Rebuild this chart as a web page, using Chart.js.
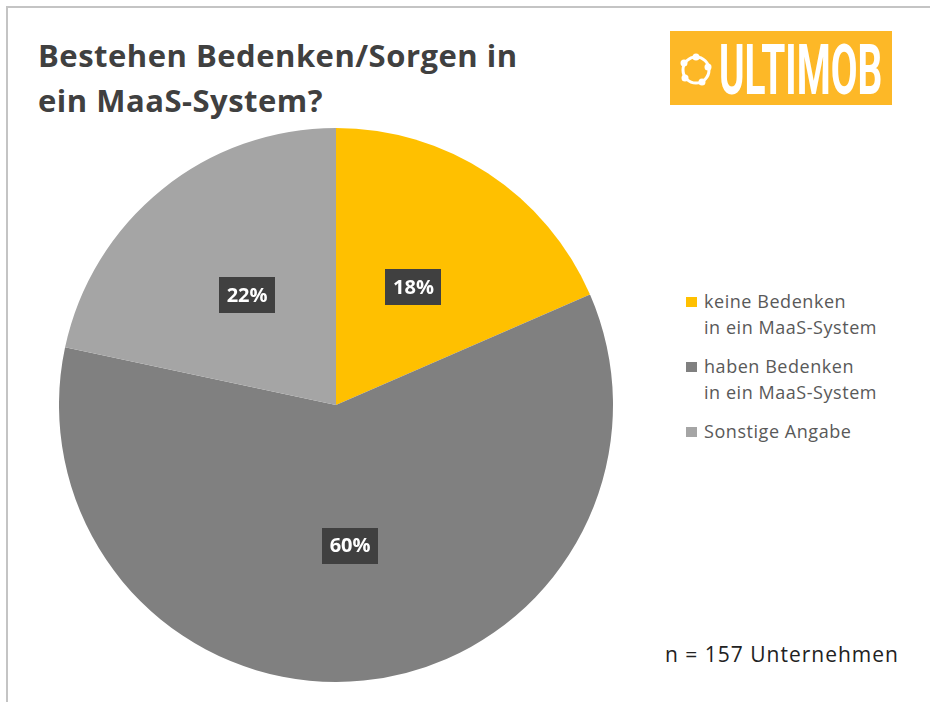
<!DOCTYPE html>
<html>
<head>
<meta charset="utf-8">
<script src="https://cdn.jsdelivr.net/npm/chart.js@4"></script>
<style>
  body { margin: 0; width: 930px; height: 702px; background: #fff; overflow: hidden; position: relative; font-family: "Open Sans", Lato, sans-serif; }
  #frame { position: absolute; left: 6px; top: 6px; right: -4px; bottom: -4px; border-left: 2px solid #c4c4c4; border-top: 2px solid #c4c4c4; }
  #title { position: absolute; left: 38px; top: 33px; font-weight: bold; font-size: 31px; letter-spacing: 0.5px; line-height: 45px; color: #404040; white-space: nowrap; }
  #logo { position: absolute; left: 670px; top: 31px; width: 222px; height: 74px; background: #fdb827; }
  #logo svg { position: absolute; left: 9px; top: 20px; }
  #logoText { position: absolute; left: 49px; top: 4px; font-family: Roboto, sans-serif; font-weight: bold; font-size: 70px; line-height: 70px; color: #fff; transform-origin: 0 0; white-space: nowrap; }
  #pieBox { position: absolute; left: 59px; top: 128px; width: 554px; height: 554px; }
  #legend { position: absolute; left: 686px; top: 288px; font-size: 18px; letter-spacing: 0.55px; color: #595959; }
  .item { position: relative; padding-left: 18px; margin-bottom: 13px; line-height: 26px; }
  .item span.sw { position: absolute; left: 0; top: 9px; width: 11px; height: 10px; }
  #note { position: absolute; left: 665px; top: 640px; font-size: 21px; letter-spacing: 1px; color: #222; white-space: nowrap; }
</style>
</head>
<body>
<div id="frame"></div>
<div id="title">Bestehen Bedenken/Sorgen in<br>ein MaaS-System?</div>
<div id="logo">
  <svg width="36" height="38" viewBox="0 0 36 38">
    <circle cx="17" cy="19" r="13" fill="none" stroke="#fff" stroke-width="3"/>
    <circle cx="17" cy="6" r="3.5" fill="#fff"/>
    <circle cx="29" cy="16" r="3.5" fill="#fff"/>
    <circle cx="23" cy="31" r="3.5" fill="#fff"/>
    <circle cx="6" cy="27" r="3.5" fill="#fff"/>
    <circle cx="5" cy="12" r="3.5" fill="#fff"/>
  </svg>
  <div id="logoText">ULTIMOB</div>
</div>
<div id="pieBox"><canvas id="pie"></canvas></div>
<div id="legend"></div>
<div id="note">n = 157 Unternehmen</div>

<script>
// answers (number of companies, n = 157)
const categories = [
  ['keine Bedenken', 'in ein MaaS-System'],
  ['haben Bedenken', 'in ein MaaS-System'],
  ['Sonstige Angabe']
];
const counts = [29, 94, 34];
const colors = ['#ffc000', '#808080', '#a5a5a5'];

const total = counts.reduce((a, b) => a + b, 0);

// squeeze logo text into its box
const lt = document.getElementById('logoText');
lt.style.transform = 'scaleX(' + (163 / lt.offsetWidth) + ')';

// legend
const legend = document.getElementById('legend');
categories.forEach((lines, i) => {
  const div = document.createElement('div');
  div.className = 'item';
  div.innerHTML = '<span class="sw" style="background:' + colors[i] + '"></span>' + lines.join('<br>');
  legend.appendChild(div);
});

// percent boxes in the middle of each slice
const pctLabels = {
  id: 'pctLabels',
  afterDatasetsDraw(chart) {
    const ctx = chart.ctx;
    const meta = chart.getDatasetMeta(0);
    ctx.save();
    ctx.font = 'bold 20px "Open Sans", sans-serif';
    ctx.textAlign = 'center';
    ctx.textBaseline = 'middle';
    meta.data.forEach((arc, i) => {
      const p = arc.getProps(['x', 'y', 'startAngle', 'endAngle', 'outerRadius']);
      const mid = (p.startAngle + p.endAngle) / 2;
      const r = p.outerRadius * 0.51;
      const x = p.x + Math.cos(mid) * r;
      const y = p.y + Math.sin(mid) * r;
      const txt = Math.round(counts[i] / total * 100) + '%';
      const w = 56, h = 36;
      ctx.fillStyle = '#404040';
      ctx.fillRect(Math.round(x - w / 2), Math.round(y - h / 2), w, h);
      ctx.fillStyle = '#fff';
      ctx.fillText(txt, x, y + 1);
    });
    ctx.restore();
  }
};

new Chart(document.getElementById('pie'), {
  type: 'pie',
  data: {
    labels: categories,
    datasets: [{
      data: counts,
      backgroundColor: colors,
      borderWidth: 0
    }]
  },
  options: {
    responsive: true,
    maintainAspectRatio: false,
    animation: false,
    layout: { padding: 0 },
    plugins: {
      legend: { display: false },
      tooltip: { enabled: false }
    }
  },
  plugins: [pctLabels]
});
</script>
</body>
</html>
